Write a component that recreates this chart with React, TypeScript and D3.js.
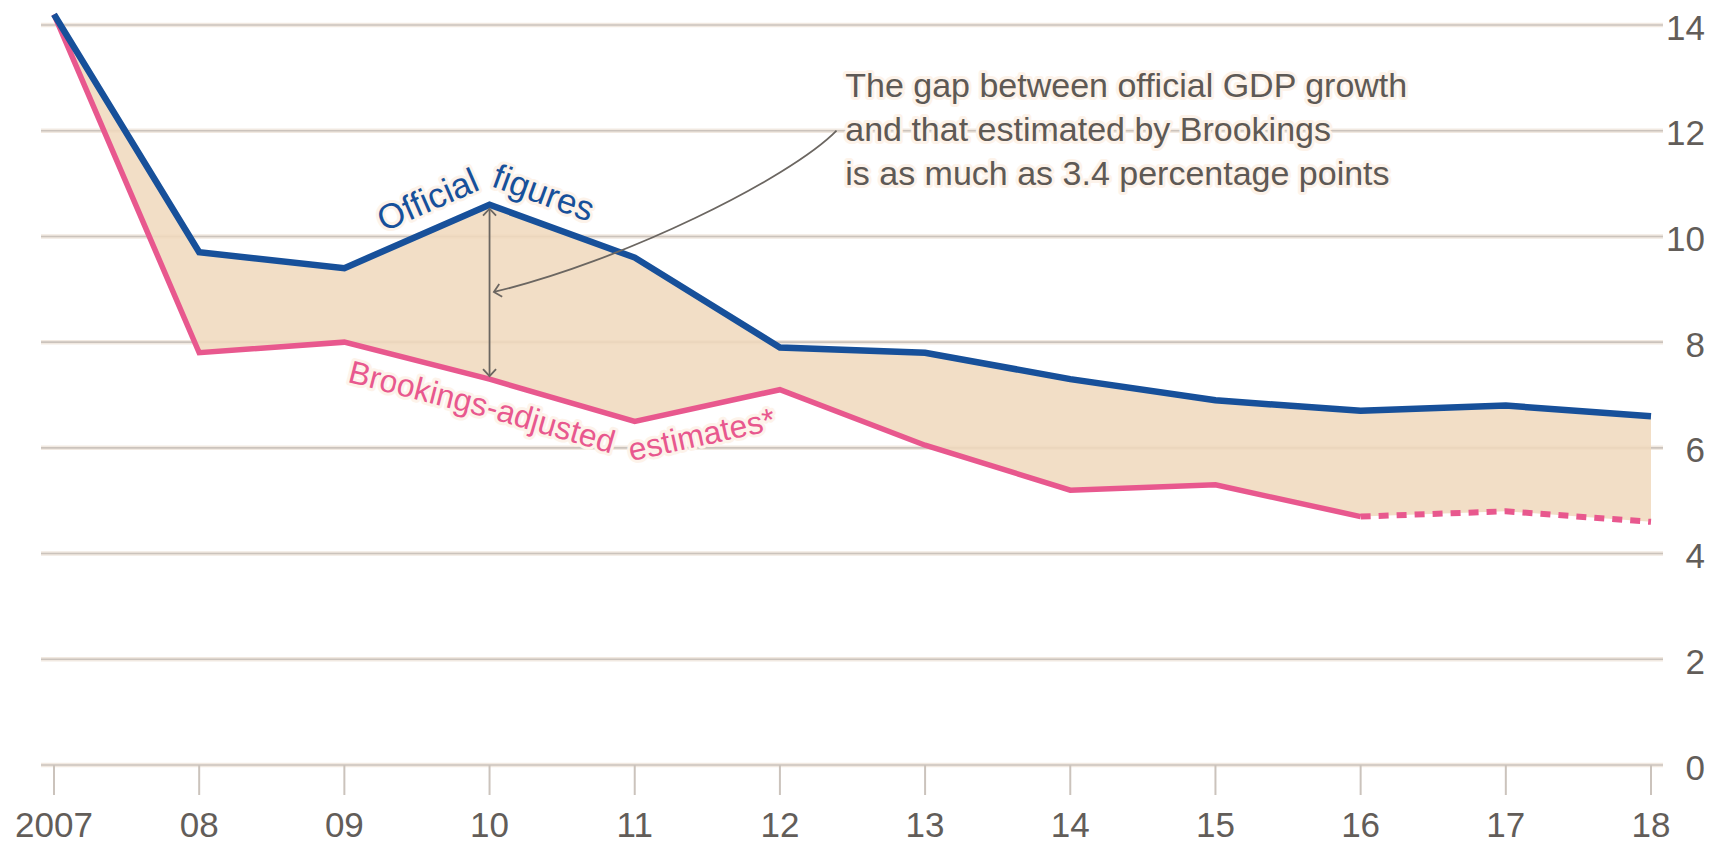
import React, { useEffect, useRef } from "react";
import * as d3 from "d3";

// China GDP growth, % — official vs Brookings-adjusted
const years = [2007, 2008, 2009, 2010, 2011, 2012, 2013, 2014, 2015, 2016, 2017, 2018];
const yearLabels = ["2007", "08", "09", "10", "11", "12", "13", "14", "15", "16", "17", "18"];
const officialGrowth = [14.2, 9.7, 9.4, 10.6, 9.6, 7.9, 7.8, 7.3, 6.9, 6.7, 6.8, 6.6];
const brookingsGrowth = [14.2, 7.8, 8.0, 7.3, 6.5, 7.1, 6.05, 5.2, 5.3, 4.7, 4.8, 4.6];
const projectedFrom = 2016;
const yTicks = [0, 2, 4, 6, 8, 10, 12, 14];

const officialLabel = ["Official", "figures"];
const brookingsLabel = ["Brookings-adjusted", "estimates*"];
const noteLines = [
  "The gap between official GDP growth",
  "and that estimated by Brookings",
  "is as much as 3.4 percentage points",
];

// annotation anchors, in data units (year, %)
const gapYear = 2010;
const noteAnchor = { year: 2012.45, value: 12.63 };
const noteArrow = [
  { year: 2012.39, value: 12.0 },
  { year: 2012.07, value: 11.1 },
  { year: 2010.9, value: 9.51 },
  { year: 2010.03, value: 8.95 },
];

const W = 1722;
const H = 846;
const FONT = "'Liberation Sans', Arial, sans-serif";
const BLUE = "#17509a";
const PINK = "#e8588e";
const GREY_TEXT = "#625d59";
const GRID = "#cbc3bc";
const HALO = "#fdf3ea";

export default function App() {
  const ref = useRef<SVGSVGElement>(null);

  useEffect(() => {
    document.body.style.margin = "0";
    const svg = d3.select(ref.current);
    svg.selectAll("*").remove();

    const x = d3.scaleLinear().domain([2007, 2018]).range([54, 1651]);
    const y = d3.scaleLinear().domain([0, 14]).range([765, 25]);

    const rows = years.map((yr, i) => ({
      year: yr,
      official: officialGrowth[i],
      brookings: brookingsGrowth[i],
    }));

    const defs = svg.append("defs");
    defs
      .append("marker")
      .attr("id", "chevron")
      .attr("markerUnits", "userSpaceOnUse")
      .attr("viewBox", "0 0 10 16")
      .attr("refX", 8)
      .attr("refY", 8)
      .attr("markerWidth", 10)
      .attr("markerHeight", 16)
      .attr("orient", "auto-start-reverse")
      .append("path")
      .attr("d", "M1,1.5 L8,8 L1,14.5")
      .attr("fill", "none")
      .attr("stroke", "#6b6661")
      .attr("stroke-width", 1.8);

    // gridlines
    const grid = svg.append("g");
    const gx0 = x(2007) - 13;
    const gx1 = x(2018) + 12;
    grid
      .selectAll("line.bg")
      .data(yTicks)
      .join("line")
      .attr("class", "bg")
      .attr("x1", gx0)
      .attr("x2", gx1)
      .attr("y1", (d) => y(d))
      .attr("y2", (d) => y(d))
      .attr("stroke", "#f1e9e1")
      .attr("stroke-width", 4.5);
    grid
      .selectAll("line.fg")
      .data(yTicks)
      .join("line")
      .attr("class", "fg")
      .attr("x1", gx0)
      .attr("x2", gx1)
      .attr("y1", (d) => y(d))
      .attr("y2", (d) => y(d))
      .attr("stroke", GRID)
      .attr("stroke-width", 1.6);

    // x ticks
    grid
      .selectAll("line.tick")
      .data(years)
      .join("line")
      .attr("class", "tick")
      .attr("x1", (d) => x(d))
      .attr("x2", (d) => x(d))
      .attr("y1", y(0))
      .attr("y2", y(0) + 30)
      .attr("stroke", GRID)
      .attr("stroke-width", 2);

    // y labels (right)
    svg
      .append("g")
      .selectAll("text")
      .data(yTicks)
      .join("text")
      .attr("x", 1705)
      .attr("y", (d) => y(d) + 2)
      .attr("dy", "0.36em")
      .attr("text-anchor", "end")
      .attr("font-family", FONT)
      .attr("font-size", 35)
      .attr("fill", GREY_TEXT)
      .text((d) => d);

    // x labels
    svg
      .append("g")
      .selectAll("text")
      .data(years)
      .join("text")
      .attr("x", (d) => x(d))
      .attr("y", 837)
      .attr("text-anchor", "middle")
      .attr("font-family", FONT)
      .attr("font-size", 35)
      .attr("fill", GREY_TEXT)
      .text((d, i) => yearLabels[i]);

    // gap area
    const area = d3
      .area<any>()
      .x((d) => x(d.year))
      .y0((d) => y(d.brookings))
      .y1((d) => y(d.official));
    svg
      .append("path")
      .attr("d", area(rows))
      .attr("fill", "#f0d8bd")
      .attr("fill-opacity", 0.86);

    // lines
    const lineB = d3
      .line<any>()
      .x((d) => x(d.year))
      .y((d) => y(d.brookings));
    const lineO = d3
      .line<any>()
      .x((d) => x(d.year))
      .y((d) => y(d.official));

    svg
      .append("path")
      .attr("d", lineB(rows.filter((d) => d.year <= projectedFrom)))
      .attr("fill", "none")
      .attr("stroke", PINK)
      .attr("stroke-width", 5.5)
      .attr("stroke-linejoin", "miter");
    svg
      .append("path")
      .attr("d", lineB(rows.filter((d) => d.year >= projectedFrom)))
      .attr("fill", "none")
      .attr("stroke", PINK)
      .attr("stroke-width", 6)
      .attr("stroke-dasharray", "10 8");
    svg
      .append("path")
      .attr("d", lineO(rows))
      .attr("fill", "none")
      .attr("stroke", BLUE)
      .attr("stroke-width", 6.5)
      .attr("stroke-linejoin", "miter");

    // gap arrow at 2010
    const g2010 = rows.find((d) => d.year === gapYear)!;
    svg
      .append("line")
      .attr("x1", x(gapYear))
      .attr("x2", x(gapYear))
      .attr("y1", y(g2010.official) + 4)
      .attr("y2", y(g2010.brookings) - 3)
      .attr("stroke", "#6b6661")
      .attr("stroke-width", 1.8)
      .attr("marker-start", "url(#chevron)")
      .attr("marker-end", "url(#chevron)");

    // curved pointer from note
    const [p0, c1, c2, p3] = noteArrow.map((p) => [x(p.year), y(p.value)]);
    const curve = d3.path();
    curve.moveTo(p0[0], p0[1]);
    curve.bezierCurveTo(c1[0], c1[1], c2[0], c2[1], p3[0], p3[1]);
    svg
      .append("path")
      .attr("d", curve.toString())
      .attr("fill", "none")
      .attr("stroke", "#6b6661")
      .attr("stroke-width", 1.8)
      .attr("marker-end", "url(#chevron)");

    // series labels following the lines
    const offsetLine = (key: "official" | "brookings", from: number, to: number, dy: number) =>
      d3
        .line<any>()
        .x((d) => x(d.year))
        .y((d) => y(d[key]) + dy)(rows.filter((d) => d.year >= from && d.year <= to));

    defs.append("path").attr("id", "officialPath").attr("d", offsetLine("official", 2009, 2012, -19));
    defs.append("path").attr("id", "brookingsPath").attr("d", offsetLine("brookings", 2008, 2013, 39));

    const pathLabel = (id: string, words: string[], color: string, size: number, start: number, gap: number) => {
      const tp = svg
        .append("text")
        .attr("font-family", FONT)
        .attr("font-size", size)
        .attr("fill", color)
        .attr("stroke", HALO)
        .attr("stroke-width", 6)
        .attr("stroke-linejoin", "round")
        .attr("paint-order", "stroke")
        .append("textPath")
        .attr("href", "#" + id)
        .attr("startOffset", start);
      tp.append("tspan").text(words[0] + " ");
      tp.append("tspan").attr("dx", gap).text(words[1]);
    };

    pathLabel("officialPath", officialLabel, BLUE, 35, 43, 0);
    pathLabel("brookingsPath", brookingsLabel, PINK, 32, 148, 12);

    // note text
    svg
      .append("g")
      .selectAll("text")
      .data(noteLines)
      .join("text")
      .attr("x", x(noteAnchor.year))
      .attr("y", (d, i) => y(noteAnchor.value) + i * 44)
      .attr("font-family", FONT)
      .attr("font-size", 34)
      .attr("fill", "#5e5955")
      .attr("stroke", HALO)
      .attr("stroke-width", 6)
      .attr("stroke-linejoin", "round")
      .attr("paint-order", "stroke")
      .text((d) => d);
  }, []);

  return (
    <svg
      ref={ref}
      width={W}
      height={H}
      style={{ position: "absolute", left: 0, top: 0, background: "#fff" }}
    />
  );
}
